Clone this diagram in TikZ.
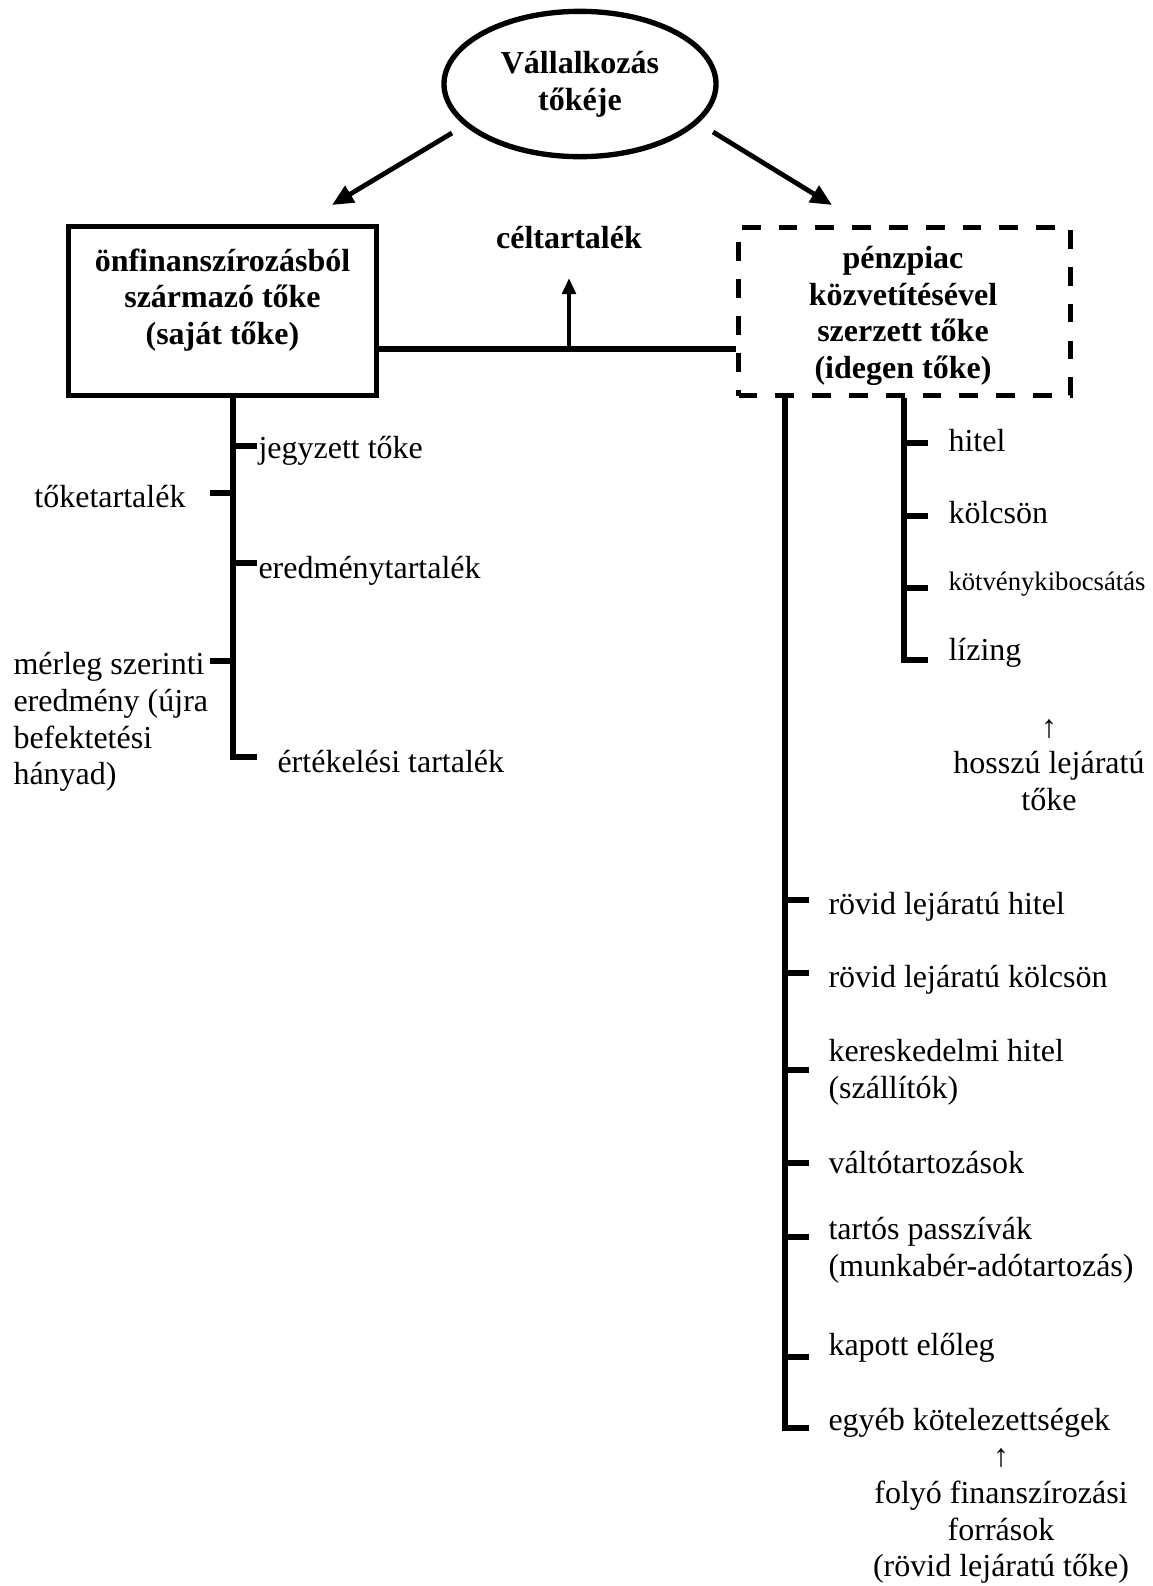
\documentclass[tikz,border=0pt]{standalone}
\usepackage{fontspec}
\setmainfont{Liberation Serif}
\usetikzlibrary{shapes.geometric,arrows.meta}
\begin{document}
\begin{tikzpicture}[x=0.375pt,y=-0.375pt,
  ln/.style={line width=2.1pt,line join=miter},
  bigarr/.style={line width=1.8pt,-{Triangle[length=8pt,width=7pt]}},
  smallarr/.style={line width=1.8pt,-{Triangle[length=6pt,width=5pt]}},
  txt/.style={font=\fontsize{12}{13.8}\selectfont,inner sep=0pt},
  small/.style={font=\fontsize{10}{12}\selectfont,inner sep=0pt},
  btxt/.style={font=\fontsize{12}{13.8}\selectfont\bfseries,inner sep=0pt,align=center},
  solidbox/.style={draw,line width=2pt,rectangle,inner sep=0pt},
  dashbox/.style={draw,line width=2pt,rectangle,inner sep=0pt,dash pattern=on 7pt off 6.8pt}
]
\useasboundingbox (0,0) rectangle (1152,1586);

% top ellipse
\node[draw,ellipse,line width=2pt,minimum width=102pt,minimum height=54.5pt,inner sep=0pt,btxt] (E) at (580,84) {Vállalkozás\\tőkéje};

% boxes
\node[solidbox,minimum width=115.4pt,minimum height=63.5pt] (L) at (222.5,311) {};
\node[btxt] (Lt) at (222.5,300) {önfinanszírozásból\\származó tőke\\(saját tőke)};
\node[dashbox,minimum width=124.4pt,minimum height=63pt] (R) at (904.5,311.5) {};
\node[btxt] (Rt) at (903,316) {pénzpiac\\közvetítésével\\szerzett tőke\\(idegen tőke)};

% arrows from the ellipse
\coordinate (la0) at (452,133);
\coordinate (la1) at (332,205);
\coordinate (ra0) at (713,132);
\coordinate (ra1) at (832,205);
\draw[bigarr] (la0) -- (la1);
\draw[bigarr] (ra0) -- (ra1);

% céltartalék
\node[btxt] (C) at (569,238) {céltartalék};
\coordinate (hm) at (569,349);
\coordinate (ctip) at (569,278);
\draw[ln] (L.east |- hm) -- (R.west |- hm);
\draw[smallarr] (hm) -- (ctip);

% left branch
\coordinate (lt) at (233,757);
\draw[ln] (lt |- L.south) -- (lt) -- ++(24,0);
\draw[ln] (233,446) -- (257,446);
\draw[ln] (210,493) -- (233,493);
\draw[ln] (233,563) -- (257,563);
\draw[ln] (210,661) -- (233,661);
\node[txt,anchor=west] (jt) at (258,451) {jegyzett tőke};
\node[txt,anchor=east] (tt) at (186,497) {tőketartalék};
\node[txt,anchor=west] (et) at (258,571) {eredménytartalék};
\node[txt,anchor=west,align=left] (mt) at (13,722) {mérleg szerinti\\eredmény (újra\\befektetési\\hányad)};
\node[txt,anchor=west] (ot) at (277,762) {értékelési tartalék};

% right inner branch (long-term)
\coordinate (ri) at (904,660);
\draw[ln] (ri |- R.south) -- (ri) -- ++(24,0);
\foreach \yy in {443,516,588} \draw[ln] (904,\yy) -- (928,\yy);
\node[txt,anchor=west] (h1) at (948,441) {hitel};
\node[txt,anchor=west] (h2) at (948,513) {kölcsön};
\node[small,anchor=west] (h3) at (948,584) {kötvénykibocsátás};
\node[txt,anchor=west] (h4) at (948,653) {lízing};
\node[txt,align=center] (hl) at (1049,765) {↑\\hosszú lejáratú\\tőke};

% right outer branch (short-term)
\coordinate (ro) at (785,1428);
\draw[ln] (ro |- R.south) -- (ro) -- ++(24,0);
\foreach \yy in {900,973,1070,1163,1237,1357} \draw[ln] (785,\yy) -- (809,\yy);
\node[txt,anchor=west] (s1) at (828,907) {rövid lejáratú hitel};
\node[txt,anchor=west] (s2) at (828,980) {rövid lejáratú kölcsön};
\node[txt,anchor=west,align=left] (s3) at (828,1072) {kereskedelmi hitel\\(szállítók)};
\node[txt,anchor=west] (s4) at (828,1163) {váltótartozások};
\node[txt,anchor=west,align=left] (s5) at (828,1250) {tartós passzívák\\(munkabér-adótartozás)};
\node[txt,anchor=west] (s6) at (828,1348) {kapott előleg};
\node[txt,anchor=west] (s7) at (828,1423) {egyéb kötelezettségek};
\node[txt,align=center] (fl) at (1001,1516) {↑\\folyó finanszírozási\\források\\(rövid lejáratú tőke)};
\end{tikzpicture}
\end{document}
